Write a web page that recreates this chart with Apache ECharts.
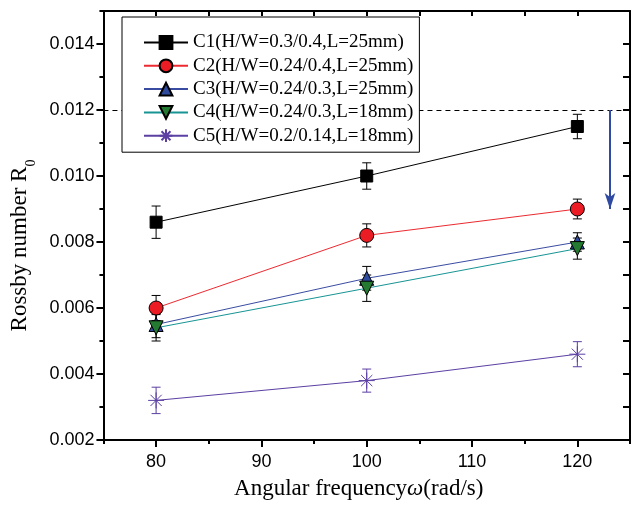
<!DOCTYPE html>
<html>
<head>
<meta charset="utf-8">
<script src="https://cdn.jsdelivr.net/npm/echarts@6/dist/echarts.min.js"></script>
<style>html,body{margin:0;padding:0;background:#fff}#c{width:636px;height:505px}</style>
</head>
<body>
<div id="c"></div>
<script>
const omega = [80, 100, 120];
const seriesNames = ['C1(H/W=0.3/0.4,L=25mm)', 'C2(H/W=0.24/0.4,L=25mm)', 'C3(H/W=0.24/0.3,L=25mm)', 'C4(H/W=0.24/0.3,L=18mm)', 'C5(H/W=0.2/0.14,L=18mm)'];
const c1 = [0.0086, 0.0100, 0.0115];
const c1Err = [0.00049, 0.0004, 0.00037];
const c2 = [0.0060, 0.0082, 0.0090];
const c2Err = [0.00038, 0.00035, 0.0003];
const c3 = [0.0055, 0.0069, 0.0080];
const c3Err = [0.0004, 0.00036, 0.00028];
const c4 = [0.0054, 0.0066, 0.0078];
const c4Err = [0.0004, 0.0004, 0.00032];
const c5 = [0.0032, 0.0038, 0.0046];
const c5Err = [0.0004, 0.00035, 0.00038];
const xMajorTicks = [80, 90, 100, 110, 120];
const xMinorTicks = [75, 85, 95, 105, 115, 125];
const yMajorTicks = [0.002, 0.004, 0.006, 0.008, 0.010, 0.012, 0.014];
const yMinorTicks = [0.003, 0.005, 0.007, 0.009, 0.011, 0.013, 0.015];
const xRange = [75, 125];
const yRange = [0.002, 0.015];
const refLevel = 0.012;
const arrowX = 123.1;
const arrowEnd = 0.0090;

const values = [c1, c2, c3, c4, c5];
const errs = [c1Err, c2Err, c3Err, c4Err, c5Err];
const fills = ['#000000', '#ec1c24', '#2d4a9c', '#237a30', '#5b3fa3'];
const lineColors = ['#000000', '#ec2a30', '#3a4ca2', '#179494', '#5b3fa3'];
const barColors = ['#000000', '#000000', '#000000', '#000000', '#5b3fa3'];
const symbols = ['rect', 'circle', 'triangle', 'path://M0,0L10,0L5,10Z', 'path://M0,5L10,5M5,0L5,10M1.5,1.5L8.5,8.5M8.5,1.5L1.5,8.5'];
const symbolSizes = [12, 14, 14, 14, 16];

const serif = 'Liberation Serif';
const sans = 'Liberation Sans';
const xAll = xMajorTicks.concat(xMinorTicks).sort((a, b) => a - b);
const yAll = yMajorTicks.concat(yMinorTicks).sort((a, b) => a - b);

const series = [];
values.forEach((vals, i) => {
  series.push({
    type: 'custom',
    z: 1,
    silent: true,
    xAxisIndex: 0, yAxisIndex: 0,
    data: omega.map((x, j) => [x, vals[j] - errs[i][j], vals[j] + errs[i][j]]),
    encode: { x: 0, y: [1, 2] },
    renderItem: function (params, api) {
      const x = api.value(0), lo = api.value(1), hi = api.value(2);
      const pl = api.coord([x, lo]), ph = api.coord([x, hi]);
      const cap = 4.5;
      const st = { stroke: barColors[i], lineWidth: 1 };
      return {
        type: 'group', children: [
          { type: 'line', shape: { x1: ph[0], y1: ph[1], x2: pl[0], y2: pl[1] }, style: st },
          { type: 'line', shape: { x1: ph[0] - cap, y1: ph[1], x2: ph[0] + cap, y2: ph[1] }, style: st },
          { type: 'line', shape: { x1: pl[0] - cap, y1: pl[1], x2: pl[0] + cap, y2: pl[1] }, style: st }
        ]
      };
    }
  });
});
values.forEach((vals, i) => {
  const s = {
    name: seriesNames[i],
    type: 'line',
    z: 3,
    xAxisIndex: 0, yAxisIndex: 0,
    data: omega.map((x, j) => [x, vals[j]]),
    symbol: symbols[i],
    symbolSize: symbolSizes[i],
    showAllSymbol: true,
    lineStyle: { color: lineColors[i], width: 1 },
    itemStyle: { color: fills[i], borderColor: i === 4 ? fills[i] : '#000', borderWidth: 1 },
    emphasis: { disabled: true }
  };
  if (i === 0) {
    s.markLine = {
      silent: true,
      animation: false,
      symbol: ['none', 'none'],
      label: { show: false },
      data: [
        [
          { coord: [xRange[0], refLevel], symbol: 'none', lineStyle: { color: '#000', type: [5, 4], width: 1 } },
          { coord: [xRange[1], refLevel], symbol: 'none' }
        ],
        [
          { coord: [arrowX, refLevel], symbol: 'none', lineStyle: { color: '#2f4aa2', type: 'solid', width: 2 } },
          { coord: [arrowX, arrowEnd], symbol: 'arrow', symbolSize: [8, 16] }
        ]
      ]
    };
  }
  series.push(s);
});

const chart = echarts.init(document.getElementById('c'));
chart.setOption({
  animation: false,
  backgroundColor: '#fff',
  grid: { left: 102, right: 6, top: 11, bottom: 64 },
  legend: {
    data: seriesNames,
    orient: 'vertical',
    left: 122, top: 17,
    z: 10,
    backgroundColor: '#fff',
    borderColor: '#000',
    borderWidth: 1,
    padding: [16, 6, 7, 21],
    itemWidth: 44,
    itemHeight: 16,
    itemGap: 4.3,
    selectedMode: false,
    textStyle: { fontFamily: serif, fontSize: 19, color: '#000', lineHeight: 19 }
  },
  xAxis: [
    {
      type: 'value', position: 'bottom', min: xRange[0], max: xRange[1],
      splitLine: { show: false },
      axisLine: { show: true, lineStyle: { color: '#000', width: 2 } },
      axisTick: { show: true, inside: false, length: 7, customValues: xMajorTicks, lineStyle: { color: '#000', width: 2 } },
      axisLabel: { customValues: xMajorTicks, margin: 13, fontFamily: sans, fontSize: 18, color: '#000' },
      name: '{a|Angular frequency}{i|ω}{a|(rad/s)}',
      nameLocation: 'middle', nameGap: 37,
      nameTextStyle: { padding: [0, 16, 0, 0], rich: { a: { fontFamily: serif, fontSize: 23, color: '#000' }, i: { fontFamily: serif, fontSize: 23, fontStyle: 'italic', color: '#000' } } }
    },
    {
      type: 'value', position: 'bottom', min: xRange[0], max: xRange[1],
      splitLine: { show: false }, axisLine: { show: false },
      axisTick: { show: true, inside: false, length: 4, customValues: xMinorTicks, lineStyle: { color: '#000', width: 2 } },
      axisLabel: { show: false }
    },
    {
      type: 'value', position: 'top', min: xRange[0], max: xRange[1],
      splitLine: { show: false },
      axisLine: { show: true, lineStyle: { color: '#000', width: 2 } },
      axisTick: { show: true, inside: true, length: 5, customValues: xAll, lineStyle: { color: '#000', width: 2 } },
      axisLabel: { show: false }
    }
  ],
  yAxis: [
    {
      type: 'value', position: 'left', min: yRange[0], max: yRange[1],
      splitLine: { show: false },
      axisLine: { show: true, lineStyle: { color: '#000', width: 2 } },
      axisTick: { show: true, inside: false, length: 7, customValues: yMajorTicks, lineStyle: { color: '#000', width: 2 } },
      axisLabel: { customValues: yMajorTicks, margin: 9, fontFamily: sans, fontSize: 18, color: '#000', formatter: v => v.toFixed(3) },
      name: '{a|Rossby number R}{s|0}',
      nameLocation: 'middle', nameGap: 67, nameRotate: 90,
      nameTextStyle: { padding: [0, 40, 0, 0], rich: { a: { fontFamily: serif, fontSize: 23, color: '#000', lineHeight: 26 }, s: { fontFamily: serif, fontSize: 14, color: '#000', verticalAlign: 'bottom', lineHeight: 14, padding: [0, 0, -6, 0] } } }
    },
    {
      type: 'value', position: 'left', min: yRange[0], max: yRange[1],
      splitLine: { show: false }, axisLine: { show: false },
      axisTick: { show: true, inside: false, length: 4, customValues: yMinorTicks, lineStyle: { color: '#000', width: 2 } },
      axisLabel: { show: false }
    },
    {
      type: 'value', position: 'right', min: yRange[0], max: yRange[1],
      splitLine: { show: false },
      axisLine: { show: true, lineStyle: { color: '#000', width: 2 } },
      axisTick: { show: true, inside: true, length: 7, customValues: yAll, lineStyle: { color: '#000', width: 2 } },
      axisLabel: { show: false }
    }
  ],
  series: series
});
</script>
</body>
</html>
